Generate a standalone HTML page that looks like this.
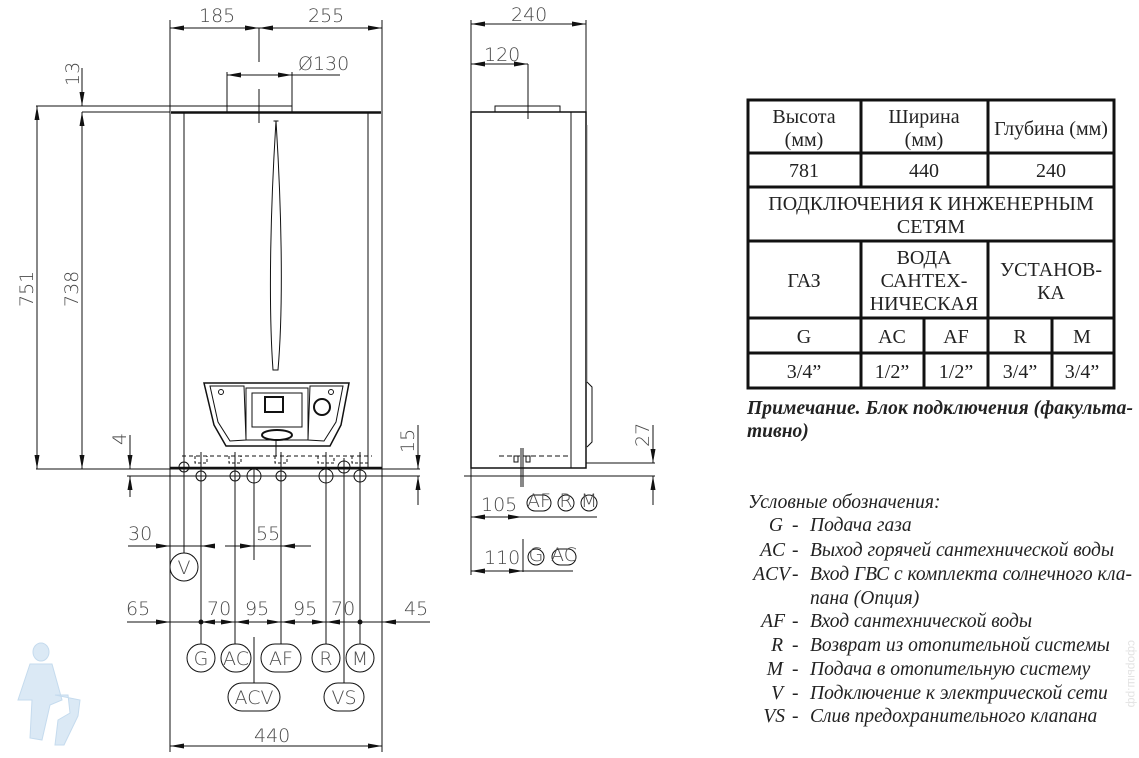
<!DOCTYPE html>
<html><head><meta charset="utf-8"><style>
html,body{margin:0;padding:0;background:#fff;}
svg{display:block;}
.d{font-family:"DejaVu Sans","Liberation Sans",sans-serif;font-size:19px;fill:#4a4a4a;font-weight:200;}
.s{font-family:"Liberation Serif",serif;font-size:20px;fill:#222;}
.i{font-family:"Liberation Serif",serif;font-size:19.5px;fill:#222;font-style:italic;}
</style></head><body>
<svg width="1139" height="758" viewBox="0 0 1139 758" xmlns="http://www.w3.org/2000/svg">
<defs>
<marker id="a" viewBox="0 0 14 6" refX="14" refY="3" markerWidth="14" markerHeight="6" markerUnits="userSpaceOnUse" orient="auto-start-reverse"><path d="M0,0.5 L14,3 L0,5.5z" fill="#111"/></marker>
</defs>
<g stroke="#111" stroke-width="1" fill="none">
<!-- FRONT VIEW -->
<line x1="170" y1="20" x2="170" y2="752"/>
<line x1="382" y1="20" x2="382" y2="752"/>
<line x1="184" y1="112" x2="184" y2="468"/>
<line x1="368" y1="112" x2="368" y2="468"/>
<line x1="171" y1="112.5" x2="381" y2="112.5" stroke-width="2.5"/>
<rect x="227" y="106" width="65" height="6"/>
<line x1="259" y1="28" x2="259" y2="62"/>
<line x1="259" y1="89" x2="259" y2="123"/>
<line x1="170" y1="28" x2="259" y2="28" marker-start="url(#a)" marker-end="url(#a)"/>
<line x1="259" y1="28" x2="382" y2="28" marker-start="url(#a)" marker-end="url(#a)"/>
<line x1="227" y1="75" x2="292" y2="75" marker-start="url(#a)" marker-end="url(#a)"/>
<line x1="292" y1="75" x2="340" y2="75"/>
<line x1="227" y1="72" x2="227" y2="106"/>
<line x1="292" y1="72" x2="292" y2="106"/>
<line x1="36" y1="106" x2="227" y2="106"/>
<line x1="82" y1="112" x2="170" y2="112"/>
<line x1="82" y1="68" x2="82" y2="106" marker-end="url(#a)"/>
<line x1="82" y1="112" x2="82" y2="469" marker-start="url(#a)" marker-end="url(#a)"/>
<line x1="37" y1="106" x2="37" y2="469" marker-start="url(#a)" marker-end="url(#a)"/>
<path d="M276,121 C271,200 268,300 273,370 L278,370 C284,300 281,200 276,121z"/>
<line x1="273.5" y1="121" x2="278.5" y2="121"/>
<!-- control panel -->
<path d="M204,383 L349,383 L341,425 L330,446 L226,446 L214,425 Z" stroke-width="1.5"/>
<path d="M210,386 L244,386 L246,440 L230,441 L218,422 Z"/>
<path d="M343,386 L310,386 L308,440 L324,441 L336,422 Z"/>
<rect x="246" y="388" width="62" height="52"/>
<rect x="252" y="393" width="50" height="34"/>
<rect x="265" y="397" width="18" height="15" stroke-width="2"/>
<ellipse cx="277" cy="435" rx="15" ry="5" stroke-width="2"/>
<circle cx="221" cy="392" r="2.5"/>
<circle cx="331" cy="392" r="2.5"/>
<circle cx="322" cy="407" r="8" stroke-width="2"/>
<line x1="276" y1="440" x2="276" y2="456"/>
<!-- bottom -->
<line x1="36" y1="469" x2="420" y2="469"/>
<line x1="170" y1="468" x2="382" y2="468" stroke-width="2.5"/>
<line x1="127" y1="476" x2="420" y2="476"/>
<line x1="182" y1="456" x2="372" y2="456" stroke-dasharray="4,3"/>
<g stroke-dasharray="3,2">
<path d="M195,456 v7 h12 v-7"/><path d="M229,456 v7 h12 v-7"/><path d="M275,456 v7 h12 v-7"/><path d="M318,456 v7 h16 v-7"/><path d="M352,456 v7 h16 v-7"/>
</g>
<circle cx="184" cy="467" r="5"/><circle cx="201" cy="476" r="5"/><circle cx="235" cy="476" r="5"/><circle cx="254" cy="476" r="7"/><circle cx="281" cy="476" r="5"/><circle cx="326" cy="476" r="7"/><circle cx="344" cy="467" r="6"/><circle cx="360" cy="476" r="6"/>
<line x1="184" y1="455" x2="184" y2="553"/>
<line x1="201" y1="452" x2="201" y2="644"/>
<line x1="235" y1="452" x2="235" y2="644"/>
<line x1="254" y1="468" x2="254" y2="560"/><line x1="254" y1="637" x2="254" y2="683"/>
<line x1="281" y1="452" x2="281" y2="644"/>
<line x1="326" y1="452" x2="326" y2="644"/>
<line x1="344" y1="458" x2="344" y2="683"/>
<line x1="360" y1="452" x2="360" y2="644"/>
<line x1="130" y1="435" x2="130" y2="469" marker-end="url(#a)"/>
<line x1="130" y1="476" x2="130" y2="497" marker-start="url(#a)"/>
<line x1="418" y1="425" x2="418" y2="469" marker-end="url(#a)"/>
<line x1="418" y1="476" x2="418" y2="505" marker-start="url(#a)"/>
<!-- 30 / 55 -->
<line x1="128" y1="546" x2="170" y2="546" marker-end="url(#a)"/>
<line x1="170" y1="546" x2="201" y2="546"/>
<line x1="201" y1="546" x2="214" y2="546" marker-start="url(#a)"/>
<line x1="225" y1="546" x2="254" y2="546" marker-end="url(#a)"/>
<line x1="254" y1="546" x2="281" y2="546"/>
<line x1="281" y1="546" x2="311" y2="546" marker-start="url(#a)"/>
<circle cx="184" cy="567" r="14"/>
<!-- dim row -->
<line x1="127" y1="622" x2="170" y2="622" marker-end="url(#a)"/>
<line x1="170" y1="622" x2="201" y2="622"/>
<line x1="201" y1="622" x2="235" y2="622" marker-start="url(#a)" marker-end="url(#a)"/>
<line x1="235" y1="622" x2="254" y2="622" marker-start="url(#a)"/>
<line x1="254" y1="622" x2="281" y2="622" marker-end="url(#a)"/>
<line x1="281" y1="622" x2="300" y2="622" marker-start="url(#a)"/>
<line x1="300" y1="622" x2="326" y2="622" marker-end="url(#a)"/>
<line x1="326" y1="622" x2="344" y2="622" marker-start="url(#a)"/>
<line x1="344" y1="622" x2="382" y2="622"/>
<line x1="382" y1="622" x2="430" y2="622" marker-start="url(#a)"/>
<circle cx="201" cy="622" r="2" fill="#111"/><circle cx="360" cy="622" r="2" fill="#111"/>
<circle cx="201" cy="658" r="14"/>
<rect x="221" y="644" width="30" height="28" rx="14"/>
<rect x="261" y="644" width="40" height="28" rx="14"/>
<circle cx="326" cy="658" r="14"/>
<circle cx="360" cy="658" r="14"/>
<rect x="228" y="683" width="52" height="28" rx="14"/>
<rect x="324" y="683" width="40" height="28" rx="14"/>
<line x1="170" y1="746" x2="382" y2="746" marker-start="url(#a)" marker-end="url(#a)"/>
<!-- SIDE VIEW -->
<line x1="471" y1="20" x2="471" y2="575"/>
<line x1="586" y1="20" x2="586" y2="112"/>
<line x1="471" y1="24" x2="586" y2="24" marker-start="url(#a)" marker-end="url(#a)"/>
<line x1="471" y1="64" x2="528" y2="64" marker-start="url(#a)" marker-end="url(#a)"/>
<line x1="528" y1="64" x2="528" y2="119"/>
<rect x="495" y="106" width="65" height="6"/>
<rect x="471" y="112" width="115" height="356" stroke-width="1.5"/>
<line x1="571" y1="112" x2="571" y2="468"/>
<line x1="587" y1="125" x2="587" y2="382" stroke="#999"/>
<path d="M587,382 L592,387 L592,442 L587,447"/>
<line x1="499" y1="456" x2="568" y2="456" stroke-dasharray="5,3"/>
<rect x="514" y="456" width="4" height="6"/><rect x="526" y="456" width="4" height="6"/>
<line x1="521" y1="448" x2="521" y2="487"/><line x1="523" y1="448" x2="523" y2="487"/>
<line x1="586" y1="463" x2="655" y2="463"/>
<line x1="464" y1="476" x2="655" y2="476"/>
<line x1="653" y1="425" x2="653" y2="463" marker-end="url(#a)"/>
<line x1="653" y1="476" x2="653" y2="505" marker-start="url(#a)"/>
<line x1="471" y1="517" x2="522" y2="517" marker-start="url(#a)" marker-end="url(#a)"/>
<line x1="522" y1="517" x2="597" y2="517"/>
<line x1="523" y1="539" x2="523" y2="572"/>
<line x1="471" y1="571" x2="523" y2="571" marker-start="url(#a)" marker-end="url(#a)"/>
<line x1="523" y1="571" x2="573" y2="571"/>
<rect x="527" y="495" width="24" height="16" rx="8"/>
<circle cx="566" cy="503" r="8"/><circle cx="589" cy="503" r="8"/>
<circle cx="536" cy="557" r="8"/>
<rect x="552" y="549" width="24" height="16" rx="8"/>
<!-- TABLE -->
<g stroke-width="3">
<rect x="748" y="100" width="366" height="288"/>
<line x1="748" y1="153" x2="1114" y2="153"/>
<line x1="748" y1="187" x2="1114" y2="187"/>
<line x1="748" y1="241" x2="1114" y2="241"/>
<line x1="748" y1="318" x2="1114" y2="318"/>
<line x1="748" y1="353" x2="1114" y2="353"/>
<line x1="861" y1="100" x2="861" y2="187"/><line x1="988" y1="100" x2="988" y2="187"/>
<line x1="861" y1="241" x2="861" y2="388"/><line x1="988" y1="241" x2="988" y2="388"/>
<line x1="924" y1="318" x2="924" y2="388"/><line x1="1052" y1="318" x2="1052" y2="388"/>
</g>
</g>
<!-- dimension text -->
<g class="d">
<text x="199" y="22">185</text><text x="308" y="22">255</text>
<text x="298" y="70">Ø130</text>
<text transform="translate(79,86) rotate(-90)">13</text>
<text transform="translate(33,307) rotate(-90)">751</text>
<text transform="translate(78,307) rotate(-90)">738</text>
<text transform="translate(126,445) rotate(-90)">4</text>
<text transform="translate(414,453) rotate(-90)">15</text>
<text x="128" y="540">30</text><text x="256" y="540">55</text>
<text x="126" y="615">65</text><text x="207" y="615">70</text><text x="245" y="615">95</text><text x="293" y="615">95</text><text x="331" y="615">70</text><text x="404" y="615">45</text>
<text x="254" y="742">440</text>
<text x="511" y="21">240</text><text x="484" y="61">120</text>
<text transform="translate(649,447) rotate(-90)">27</text>
<text x="481" y="511">105</text><text x="484" y="564">110</text>
</g>
<g class="d" text-anchor="middle" font-size="19">
<text x="184" y="574">V</text><text x="201" y="665">G</text><text x="236" y="665">AC</text><text x="281" y="665">AF</text><text x="326" y="665">R</text><text x="360" y="665">M</text><text x="254" y="704">ACV</text><text x="344" y="704">VS</text>
</g>
<g class="d" text-anchor="middle" font-size="12">
<text x="539" y="507">AF</text><text x="566" y="507">R</text><text x="589" y="507">M</text><text x="536" y="561">G</text><text x="564" y="561">AC</text>
</g>
<!-- table text -->
<g class="s" text-anchor="middle">
<text x="804" y="123">Высота</text><text x="804" y="146">(мм)</text>
<text x="924" y="123">Ширина</text><text x="924" y="146">(мм)</text>
<text x="1051" y="135">Глубина (мм)</text>
<text x="804" y="177">781</text><text x="924" y="177">440</text><text x="1051" y="177">240</text>
<text x="931" y="210">ПОДКЛЮЧЕНИЯ К ИНЖЕНЕРНЫМ</text><text x="931" y="233">СЕТЯМ</text>
<text x="804" y="287">ГАЗ</text>
<text x="924" y="264">ВОДА</text><text x="924" y="287">САНТЕХ-</text><text x="924" y="310">НИЧЕСКАЯ</text>
<text x="1051" y="276">УСТАНОВ-</text><text x="1051" y="299">КА</text>
<text x="804" y="343">G</text><text x="892" y="343">AC</text><text x="956" y="343">AF</text><text x="1020" y="343">R</text><text x="1082" y="343">M</text>
<text x="804" y="378">3/4”</text><text x="892" y="378">1/2”</text><text x="956" y="378">1/2”</text><text x="1020" y="378">3/4”</text><text x="1082" y="378">3/4”</text>
</g>
<g class="i" font-weight="bold">
<text x="747" y="414" textLength="386">Примечание. Блок подключения (факульта-</text>
<text x="747" y="437">тивно)</text>
</g>
<g class="i">
<text x="748" y="508">Условные обозначения:</text>
<g text-anchor="end">
<text x="783" y="531">G</text><text x="785" y="556">AC</text><text x="790" y="580">ACV</text><text x="785" y="627">AF</text><text x="783" y="651">R</text><text x="783" y="675">M</text><text x="783" y="699">V</text><text x="785" y="722">VS</text>
</g>
<g><text x="792" y="531">-</text><text x="792" y="556">-</text><text x="792" y="580">-</text><text x="792" y="627">-</text><text x="792" y="651">-</text><text x="792" y="675">-</text><text x="792" y="699">-</text><text x="792" y="722">-</text></g>
<text x="810" y="531">Подача газа</text>
<text x="810" y="556">Выход горячей сантехнической воды</text>
<text x="810" y="580">Вход ГВС с комплекта солнечного кла-</text>
<text x="810" y="604">пана (Опция)</text>
<text x="810" y="627">Вход сантехнической воды</text>
<text x="810" y="651">Возврат из отопительной системы</text>
<text x="810" y="675">Подача в отопительную систему</text>
<text x="810" y="699">Подключение к электрической сети</text>
<text x="810" y="722">Слив предохранительного клапана</text>
</g>
<!-- watermark -->
<g fill="#dbe9f5" stroke="#c5dbee" stroke-width="1">
<ellipse cx="41" cy="652" rx="8" ry="9"/>
<path d="M30,664 L52,664 L62,700 L50,705 L42,740 L30,738 L32,700 L18,700 Z"/>
<path d="M55,695 L68,695 L70,713 L58,720 L55,745 L64,745 L78,716 L80,700 Z"/>
</g>
<text transform="translate(1128,640) rotate(90)" font-family="Liberation Sans,sans-serif" font-size="12" fill="#e3e3e3">сфорыш.рф</text>
</svg>
</body></html>
